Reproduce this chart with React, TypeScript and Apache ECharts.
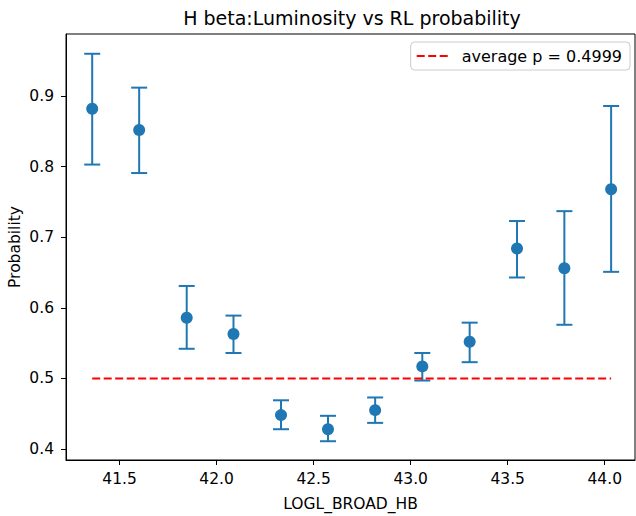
import React, { useEffect, useRef } from "react";
import * as echarts from "echarts";

const xValues = [41.359, 41.601, 41.846, 42.087, 42.332, 42.574, 42.817, 43.06, 43.304, 43.548, 43.792, 44.033];
const probabilities = [0.882, 0.852, 0.586, 0.563, 0.448, 0.428, 0.455, 0.517, 0.552, 0.684, 0.656, 0.768];
const lowerBounds = [0.803, 0.791, 0.542, 0.536, 0.428, 0.411, 0.437, 0.497, 0.523, 0.643, 0.576, 0.651];
const upperBounds = [0.960, 0.912, 0.631, 0.589, 0.469, 0.447, 0.473, 0.536, 0.579, 0.723, 0.737, 0.886];
const averageP = 0.4999;
const xTicks = [41.5, 42.0, 42.5, 43.0, 43.5, 44.0];
const yTicks = [0.4, 0.5, 0.6, 0.7, 0.8, 0.9];

const BLUE = "#1f77b4";
const FONT = "DejaVu Sans";

export default function App() {
  const ref = useRef<HTMLDivElement>(null);
  useEffect(() => {
    if (!ref.current) return;
    const chart = echarts.init(ref.current, undefined, { renderer: "svg" });
    const legendName = "average p = " + averageP.toFixed(4);
    chart.setOption({
      animation: false,
      textStyle: { fontFamily: FONT },
      grid: {
        left: 66,
        right: 1,
        top: 34,
        bottom: 56,
        containLabel: false,
        outerBoundsMode: "none",
        show: true,
        borderColor: "#000",
        borderWidth: 1,
        backgroundColor: "transparent",
      },
      graphic: [
        {
          type: "text",
          x: 352,
          y: 18,
          style: {
            text: "H beta:Luminosity vs RL probability",
            fontFamily: FONT,
            fontSize: 19,
            fill: "#000",
            textAlign: "center",
            textVerticalAlign: "middle",
          },
        },
      ],
      legend: {
        top: 42,
        right: 6,
        data: [{ name: legendName }],
        itemWidth: 33,
        itemHeight: 2,
        itemGap: 8,
        padding: [6, 8, 6, 5],
        backgroundColor: "#fff",
        borderColor: "#cccccc",
        borderWidth: 1,
        borderRadius: 4,
        textStyle: { fontFamily: FONT, fontSize: 16, color: "#000", padding: [0, 0, 0, 7] },
      },
      xAxis: {
        type: "value",
        min: 41.224,
        max: 44.156,
        name: "LOGL_BROAD_HB",
        nameLocation: "middle",
        nameGap: 36,
        nameMoveOverlap: false,
        nameTextStyle: { fontFamily: FONT, fontSize: 15.5, color: "#000" },
        splitLine: { show: false },
        axisLine: { show: true, onZero: false, lineStyle: { color: "#000", width: 1 } },
        axisTick: { show: true, inside: false, length: 5, customValues: xTicks, lineStyle: { color: "#000" } },
        axisLabel: {
          customValues: xTicks,
          formatter: (v: number) => v.toFixed(1),
          fontFamily: FONT,
          fontSize: 15.5,
          color: "#000",
          margin: 11,
        },
      },
      yAxis: {
        type: "value",
        min: 0.3844,
        max: 0.988,
        name: "Probability",
        nameLocation: "middle",
        nameGap: 43,
        nameMoveOverlap: false,
        nameTextStyle: { fontFamily: FONT, fontSize: 15.5, color: "#000" },
        splitLine: { show: false },
        axisLine: { show: true, onZero: false, lineStyle: { color: "#000", width: 1 } },
        axisTick: { show: true, inside: false, length: 5, customValues: yTicks, lineStyle: { color: "#000" } },
        axisLabel: {
          customValues: yTicks,
          formatter: (v: number) => v.toFixed(1),
          fontFamily: FONT,
          fontSize: 15.5,
          color: "#000",
          margin: 12,
        },
      },
      series: [
        {
          type: "custom",
          name: "errors",
          data: xValues.map((x, i) => [x, lowerBounds[i], upperBounds[i]]),
          renderItem: (params: any, api: any) => {
            const x = api.value(0);
            const lo = api.coord([x, api.value(1)]);
            const hi = api.coord([x, api.value(2)]);
            const cap = 8;
            const style = { stroke: BLUE, lineWidth: 2, fill: "none" };
            return {
              type: "group",
              children: [
                { type: "line", shape: { x1: lo[0], y1: lo[1], x2: hi[0], y2: hi[1] }, style },
                { type: "line", shape: { x1: lo[0] - cap, y1: lo[1], x2: lo[0] + cap, y2: lo[1] }, style },
                { type: "line", shape: { x1: hi[0] - cap, y1: hi[1], x2: hi[0] + cap, y2: hi[1] }, style },
              ],
            };
          },
          z: 2,
        },
        {
          type: "scatter",
          name: "prob",
          data: xValues.map((x, i) => [x, probabilities[i]]),
          symbol: "circle",
          symbolSize: 12,
          itemStyle: { color: BLUE, opacity: 1 },
          z: 3,
        },
        {
          type: "line",
          name: legendName,
          data: [
            [xValues[0], averageP],
            [xValues[xValues.length - 1], averageP],
          ],
          symbol: "none",
          lineStyle: { color: "#ff0000", width: 2, type: [8, 3.5] },
          itemStyle: { color: "#ff0000" },
          z: 4,
        },
      ],
    });
    return () => chart.dispose();
  }, []);
  return <div ref={ref} style={{ width: 636, height: 516, position: "absolute", left: 0, top: 0 }} />;
}
